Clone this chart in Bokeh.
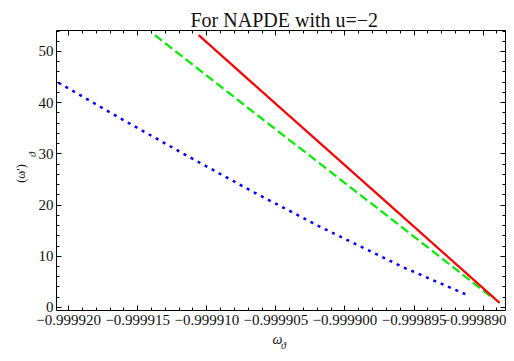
from bokeh.plotting import figure
from bokeh.models import Range1d, LinearAxis, FixedTicker, CustomLabelingPolicy
from bokeh.embed import file_html
from bokeh.resources import INLINE

# ---------------- data ----------------
title_text = "For NAPDE with u=−2"
x_label_main, x_label_sub = "ω", "ϑ"
y_label_main, y_label_sub = "(ω′)", "ϑ"

x_ticks = [-0.999920, -0.999915, -0.999910, -0.999905, -0.999900, -0.999895, -0.999890]
x_tick_labels = ["−0.999920", "−0.999915", "−0.999910", "−0.999905",
                 "−0.999900", "−0.999895", "−0.999890"]
y_ticks = [0, 10, 20, 30, 40, 50]
y_tick_labels = ["0", "10", "20", "30", "40", "50"]

# red solid curve
red_x = [-0.99991059, -0.99990702, -0.99989643, -0.99988881]
red_y = [53.2, 44.6, 19.2, 0.9]
# green dashed curve
green_x = [-0.99991376, -0.99990679, -0.99989761, -0.99988924]
green_y = [53.2, 38.5, 19.3, 1.7]
# blue dotted curve
blue_x = [-0.99992074, -0.99991630, -0.99991154, -0.99990667,
          -0.99990190, -0.99989583, -0.99989129]
blue_y = [43.9, 37.0, 29.8, 22.6, 15.9, 7.9, 2.6]

x_min, x_max = -0.99992088, -0.99988838
y_min, y_max = -0.6, 54.1

# ---------------- figure ----------------
FONT = "Liberation Serif"
INK = "#111111"
p = figure(width=506, height=353, output_backend="svg", toolbar_location=None,
           x_range=Range1d(x_min, x_max), y_range=Range1d(y_min, y_max),
           min_border_left=56, min_border_right=1, min_border_top=30, min_border_bottom=43,
           x_axis_type=None, y_axis_type=None)
p.background_fill_color = "white"
p.border_fill_color = "white"
p.outline_line_color = None
p.xgrid.visible = False
p.ygrid.visible = False

p.title.text = title_text
p.title.text_font = FONT
p.title.text_font_size = "20px"
p.title.text_font_style = "normal"
p.title.text_color = INK
p.title.align = "left"
p.title.offset = 134
p.title.standoff = 0

x_minor = [round(-0.999921 + i * 1e-6, 6) for i in range(34)]
y_minor = list(range(0, 56, 2))

no_labels = CustomLabelingPolicy(code="""
for (let i = 0; i < indices.size; i++) { indices.unset(i) }
return indices
""")

def framed_axis(ticks, minor, labels):
    ax = LinearAxis(ticker=FixedTicker(ticks=ticks, minor_ticks=minor))
    ax.axis_line_color = "black"
    ax.axis_line_width = 1
    ax.major_tick_in = 5
    ax.major_tick_out = 0
    ax.minor_tick_in = 3
    ax.minor_tick_out = 0
    ax.major_tick_line_color = "black"
    ax.minor_tick_line_color = "black"
    if labels is not None:
        ax.major_label_overrides = {t: l for t, l in zip(ticks, labels)}
        ax.major_label_text_font = FONT
        ax.major_label_text_font_size = "15px"
        ax.major_label_text_color = INK
    else:
        ax.major_label_overrides = {t: "" for t in ticks}
        ax.major_label_policy = no_labels
        ax.major_label_standoff = 0
    return ax

def label_axis(text, size, standoff, italic=True):
    ax = LinearAxis(ticker=FixedTicker(ticks=[]))
    ax.axis_line_color = None
    ax.major_tick_line_color = None
    ax.minor_tick_line_color = None
    ax.major_tick_in = 0
    ax.major_tick_out = 0
    ax.minor_tick_in = 0
    ax.minor_tick_out = 0
    ax.major_label_standoff = 0
    ax.axis_label = text
    ax.axis_label_text_font = FONT
    ax.axis_label_text_font_size = size
    ax.axis_label_text_font_style = "italic" if italic else "normal"
    ax.axis_label_text_color = INK
    ax.axis_label_standoff = standoff
    return ax

# bottom: ticks + labels, then the axis title with its subscript
xb = framed_axis(x_ticks, x_minor, x_tick_labels)
xb.major_label_standoff = 4
xb.axis_label = x_label_main + "\u2002"
xb.axis_label_text_font = FONT
xb.axis_label_text_font_size = "14px"
xb.axis_label_text_font_style = "italic"
xb.axis_label_text_color = INK
xb.axis_label_standoff = 4
p.add_layout(xb, "below")
p.add_layout(label_axis("\u2002" + x_label_sub, "10px", -10), "below")

# top and right: ticks only
p.add_layout(framed_axis(x_ticks, x_minor, None), "above")
p.add_layout(framed_axis(y_ticks, y_minor, None), "right")

# left: ticks + labels, then subscript, then main title
yl = framed_axis(y_ticks, y_minor, y_tick_labels)
yl.major_label_standoff = 3
p.add_layout(yl, "left")
p.add_layout(label_axis("\u2003\u2003\u2003\u2009" + y_label_sub, "10px", -2), "left")
p.add_layout(label_axis(y_label_main + "\u2002", "12px", -4, italic=False), "left")

# ---------------- curves ----------------
p.line(blue_x, blue_y, line_color="#0000ff", line_width=2.5, line_dash="3 5")
p.line(green_x, green_y, line_color="#00ee00", line_width=2.2, line_dash="9 4")
p.line(red_x, red_y, line_color="#ff0000", line_width=2.2)

open("out.html", "w").write(file_html(p, INLINE))
